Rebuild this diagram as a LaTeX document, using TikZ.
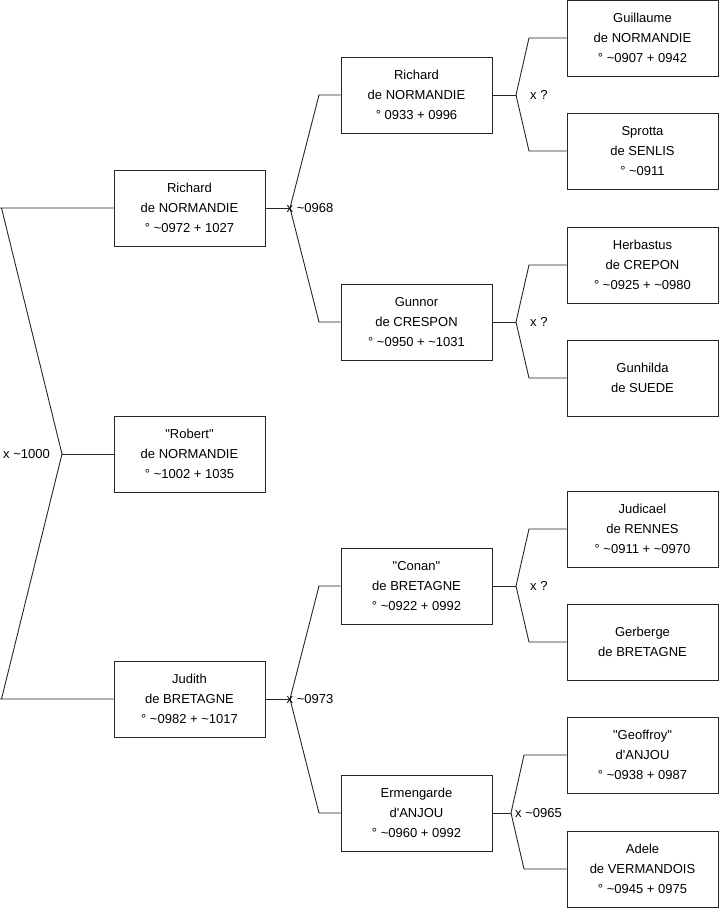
\documentclass[tikz,border=0pt]{standalone}
\usepackage{fontspec}
\setmainfont{Liberation Sans}
\begin{document}
\begin{tikzpicture}[x=1pt,y=-1pt,
  person/.style={draw=black!85,line width=0.9pt,minimum width=151pt,minimum height=76pt,inner sep=0pt,align=center,font=\fontsize{13}{20}\selectfont},
  link/.style={draw=black!85,line width=0.9pt},
  lbl/.style={font=\fontsize{13}{15}\selectfont,inner sep=0pt}]
\useasboundingbox (0,0) rectangle (719,908);
% level 1
\node[person] (p1) at (189.5,208) {Richard\\de NORMANDIE\\° \textasciitilde0972 + 1027};
\node[person] (p0) at (189.5,454) {\textquotedbl Robert\textquotedbl\\de NORMANDIE\\° \textasciitilde1002 + 1035};
\node[person] (p2) at (189.5,699) {Judith\\de BRETAGNE\\° \textasciitilde0982 + \textasciitilde1017};
% level 2
\node[person] (p3) at (416.5,95) {Richard\\de NORMANDIE\\° 0933 + 0996};
\node[person] (p4) at (416.5,322) {Gunnor\\de CRESPON\\° \textasciitilde0950 + \textasciitilde1031};
\node[person] (p5) at (416.5,586) {\textquotedbl Conan\textquotedbl\\de BRETAGNE\\° \textasciitilde0922 + 0992};
\node[person] (p6) at (416.5,813) {Ermengarde\\d\textquotesingle ANJOU\\° \textasciitilde0960 + 0992};
% level 3
\node[person] (p7) at (642.5,38) {Guillaume\\de NORMANDIE\\° \textasciitilde0907 + 0942};
\node[person] (p8) at (642.5,151) {Sprotta\\de SENLIS\\° \textasciitilde0911};
\node[person] (p9) at (642.5,265) {Herbastus\\de CREPON\\° \textasciitilde0925 + \textasciitilde0980};
\node[person] (p10) at (642.5,378) {Gunhilda\\de SUEDE};
\node[person] (p11) at (642.5,529) {Judicael\\de RENNES\\° \textasciitilde0911 + \textasciitilde0970};
\node[person] (p12) at (642.5,642) {Gerberge\\de BRETAGNE};
\node[person] (p13) at (642.5,755) {\textquotedbl Geoffroy\textquotedbl\\d\textquotesingle ANJOU\\° \textasciitilde0938 + 0987};
\node[person] (p14) at (642.5,869) {Adele\\de VERMANDOIS\\° \textasciitilde0945 + 0975};
% coordinates
\coordinate (v0) at (62,454);
\coordinate (v0a) at (1.5,208);
\coordinate (v0b) at (1.5,699);
\coordinate (e0a) at (0,208);
\coordinate (e0b) at (0,699);
\coordinate (v1) at (290,208);
\coordinate (v1a) at (319,95);
\coordinate (v1b) at (319,322);
\coordinate (v2) at (290,699);
\coordinate (v2a) at (319,586);
\coordinate (v2b) at (319,813);
\coordinate (v3) at (516,95);
\coordinate (v3a) at (529,38);
\coordinate (v3b) at (529,151);
\coordinate (v4) at (516,322);
\coordinate (v4a) at (529,265);
\coordinate (v4b) at (529,378);
\coordinate (v5) at (516,586);
\coordinate (v5a) at (529,529);
\coordinate (v5b) at (529,642);
\coordinate (v6) at (511,813);
\coordinate (v6a) at (524,755);
\coordinate (v6b) at (524,869);
% connectors
\draw[link] (p0.west) -- (v0);
\draw[link] (p1.west) -- (e0a) (v0a) -- (v0) -- (v0b) (e0b) -- (p2.west);
\draw[link] (p1.east) -- (v1);
\draw[link] (p3.west) -- (v1a) -- (v1) -- (v1b) -- (p4.west);
\draw[link] (p2.east) -- (v2);
\draw[link] (p5.west) -- (v2a) -- (v2) -- (v2b) -- (p6.west);
\draw[link] (p3.east) -- (v3);
\draw[link] (p7.west) -- (v3a) -- (v3) -- (v3b) -- (p8.west);
\draw[link] (p4.east) -- (v4);
\draw[link] (p9.west) -- (v4a) -- (v4) -- (v4b) -- (p10.west);
\draw[link] (p5.east) -- (v5);
\draw[link] (p11.west) -- (v5a) -- (v5) -- (v5b) -- (p12.west);
\draw[link] (p6.east) -- (v6);
\draw[link] (p13.west) -- (v6a) -- (v6) -- (v6b) -- (p14.west);
% labels
\node[lbl,anchor=east] (m0) at (50,454) {x \textasciitilde1000};
\node[lbl,anchor=west] (m1) at (286.5,208) {x \textasciitilde0968};
\node[lbl,anchor=west] (m2) at (286.5,699) {x \textasciitilde0973};
\node[lbl,anchor=west] (m3) at (530,95) {x ?};
\node[lbl,anchor=west] (m4) at (530,322) {x ?};
\node[lbl,anchor=west] (m5) at (530,586) {x ?};
\node[lbl,anchor=west] (m6) at (515,813) {x \textasciitilde0965};
\end{tikzpicture}
\end{document}
